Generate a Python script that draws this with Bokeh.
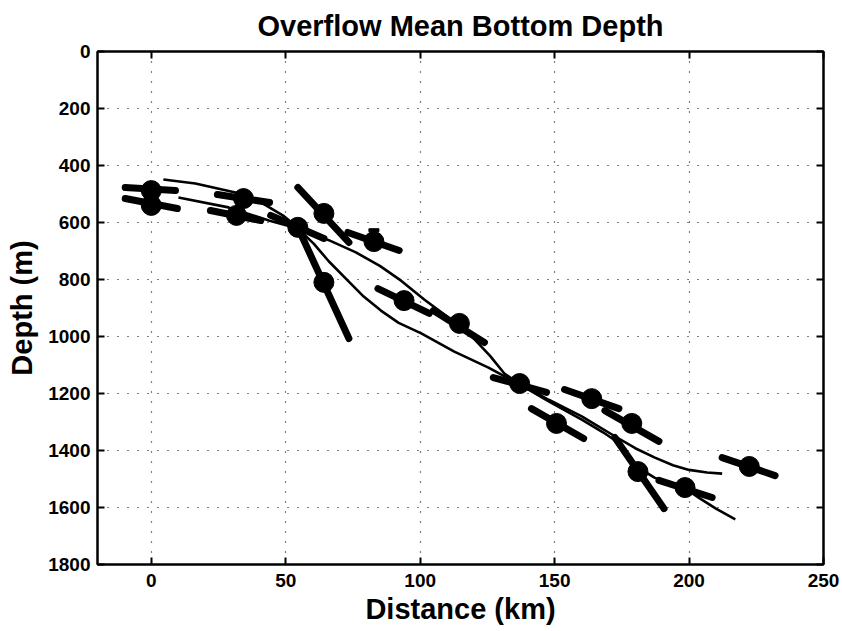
from bokeh.plotting import figure
from bokeh.models import Range1d, FixedTicker, LinearAxis
from bokeh.embed import file_html
from bokeh.resources import INLINE

# ---- data ----
title_text = "Overflow Mean Bottom Depth"
x_ticks = [0, 50, 100, 150, 200, 250]
y_ticks = [0, 200, 400, 600, 800, 1000, 1200, 1400, 1600, 1800]

# station points (distance km, depth m)
pt_x = [0.0, 0.0, 34.3, 31.7, 54.5, 64.2, 64.2, 82.8, 94.0, 114.6, 137.0, 163.8, 178.7, 150.7, 181.0, 198.5, 222.4]
pt_d = [488, 540, 516, 575, 617, 568, 810, 667, 874, 954, 1165, 1218, 1305, 1305, 1474, 1530, 1456]

# slope bars through each station (start / end)
seg_x0 = [-9.7, -9.7, 24.6, 22.0, 44.4, 54.5, 54.5, 73.1, 84.3, 104.9, 127.2, 153.7, 168.7, 141.4, 172.4, 188.8, 212.3]
seg_d0 = [477, 516, 502, 558, 575, 477, 617, 635, 832, 909, 1144, 1186, 1260, 1253, 1354, 1505, 1425]
seg_x1 = [9.0, 9.7, 44.0, 40.7, 64.2, 73.5, 73.5, 92.2, 103.4, 123.9, 147.0, 173.9, 188.8, 160.8, 190.7, 208.6, 232.0]
seg_d1 = [488, 551, 530, 593, 656, 670, 1007, 698, 919, 1021, 1196, 1253, 1368, 1358, 1604, 1565, 1488]

# small error bar on one station
err_x = [82.8]
err_top = [627]
err_bot = [667]

# two mean-depth curves
curveA_x = [4.5, 16.4, 31.3, 41.4, 48.9, 54.5, 60.0, 66.0, 76.1, 85.0, 92.9, 101.5, 110.4, 119.0, 126.0, 131.3, 137.0,
            147.8, 160.1, 172.4, 180.0, 187.3, 194.0, 200.0, 206.7, 212.3]
curveA_d = [449, 463, 495, 533, 575, 618, 640, 662, 705, 752, 804, 870, 933, 998, 1068, 1130, 1165,
            1222, 1280, 1350, 1392, 1425, 1452, 1468, 1477, 1481]
curveB_x = [10.1, 28.7, 43.7, 54.5, 60.4, 66.0, 73.1, 79.0, 85.4, 92.0, 100.4, 112.7, 125.4, 137.0,
            147.8, 160.1, 168.0, 172.4, 177.6, 182.0, 187.3, 198.5, 203.7, 210.0, 217.2]
curveB_d = [512, 547, 593, 621, 674, 736, 804, 860, 909, 952, 989, 1053, 1109, 1168,
            1228, 1292, 1336, 1364, 1425, 1465, 1496, 1532, 1566, 1604, 1642]

FONT = "Liberation Sans"

p = figure(width=840, height=630,
           x_range=Range1d(-20, 250), y_range=Range1d(1800, 0),
           output_backend="svg", toolbar_location=None,
           title=title_text,
           min_border_left=97, min_border_right=17,
           min_border_top=51, min_border_bottom=66)

p.title.align = "center"
p.title.vertical_align = "top"
p.title.text_font = FONT
p.title.text_font_size = "29px"
p.title.text_font_style = "bold"
p.title.text_color = "black"
p.title.standoff = 16

p.background_fill_color = "white"
p.border_fill_color = "white"
p.outline_line_color = "black"
p.outline_line_width = 2


def style_axis(ax, ticks, show_labels=True):
    ax.ticker = FixedTicker(ticks=ticks)
    ax.axis_line_color = "black"
    ax.axis_line_width = 2
    ax.major_tick_in = 7
    ax.major_tick_out = 0
    ax.major_tick_line_width = 2
    ax.major_tick_line_color = "black"
    ax.minor_tick_in = 0
    ax.minor_tick_out = 0
    ax.major_label_text_font = FONT
    ax.major_label_text_font_style = "bold"
    if show_labels:
        ax.major_label_text_color = "black"
        ax.major_label_text_font_size = "19px"
        ax.major_label_standoff = 9
    else:
        ax.major_label_text_color = None
        ax.major_label_text_font_size = "1px"
        ax.major_label_standoff = 0


style_axis(p.xaxis[0], x_ticks)
style_axis(p.yaxis[0], y_ticks)
p.yaxis[0].major_label_standoff = 7
p.xaxis[0].axis_label = "Distance (km)"
p.yaxis[0].axis_label = "Depth (m)"
for ax in (p.xaxis[0], p.yaxis[0]):
    ax.axis_label_text_font = FONT
    ax.axis_label_text_font_size = "29px"
    ax.axis_label_text_font_style = "bold"
    ax.axis_label_text_color = "black"
p.xaxis[0].axis_label_standoff = 3
p.yaxis[0].axis_label_standoff = 7

top_ax = LinearAxis()
style_axis(top_ax, x_ticks, show_labels=False)
p.add_layout(top_ax, "above")
right_ax = LinearAxis()
style_axis(right_ax, y_ticks, show_labels=False)
p.add_layout(right_ax, "right")

p.xgrid.ticker = FixedTicker(ticks=x_ticks)
p.ygrid.ticker = FixedTicker(ticks=y_ticks)
p.grid.grid_line_color = "black"
p.grid.grid_line_dash = "1 9"
p.grid.grid_line_width = 1.2

p.line(curveA_x, curveA_d, line_color="black", line_width=2.6, line_join="round")
p.line(curveB_x, curveB_d, line_color="black", line_width=2.6, line_join="round")

p.segment(x0=seg_x0, y0=seg_d0, x1=seg_x1, y1=seg_d1,
          line_color="black", line_width=7, line_cap="round")

p.segment(x0=err_x, y0=err_top, x1=err_x, y1=err_bot, line_color="black", line_width=3)
p.rect(x=err_x, y=err_top, width=10, height=3, width_units="screen", height_units="screen",
       fill_color="black", line_color="black")

p.scatter(pt_x, pt_d, marker="circle", size=20, fill_color="black", line_color="black")

open("out.html", "w").write(file_html(p, INLINE))
